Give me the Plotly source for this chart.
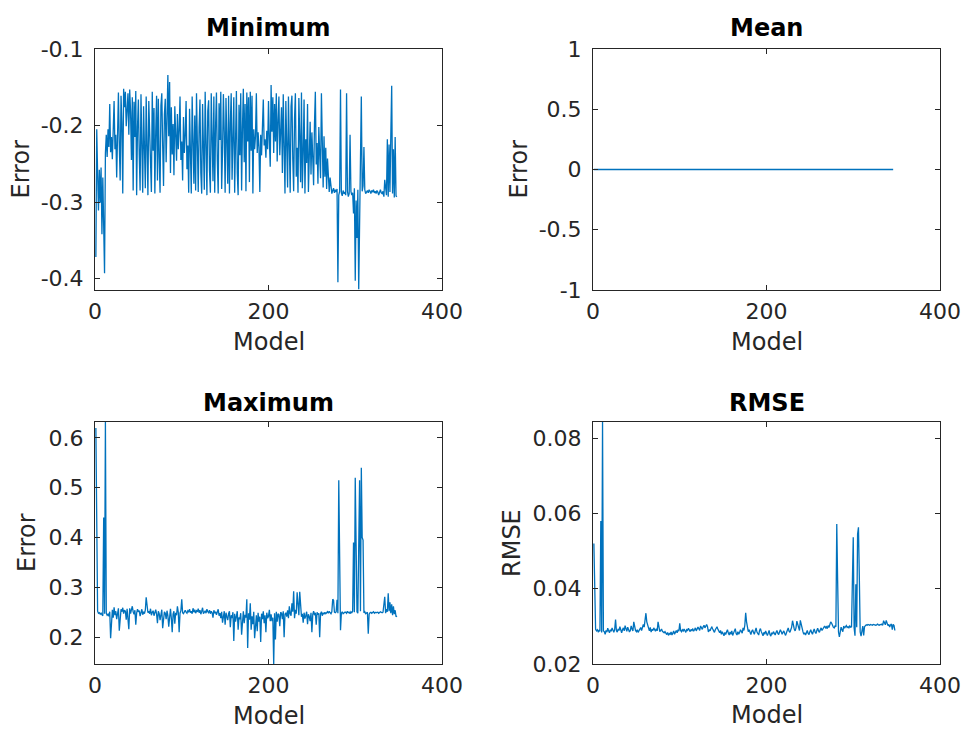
import plotly.graph_objects as go

# ---------------- data ----------------
models = list(range(1, 349))

min_err = [
    -0.372, -0.205, -0.262, -0.311, -0.258, -0.301, -0.255, -0.342, -0.268, -0.312, -0.393, -0.236,
    -0.212, -0.241, -0.205, -0.228, -0.172, -0.235, -0.215, -0.244, -0.208, -0.168, -0.231, -0.212,
    -0.268, -0.197, -0.157, -0.225, -0.272, -0.161, -0.198, -0.289, -0.152, -0.176, -0.156, -0.201,
    -0.165, -0.158, -0.212, -0.153, -0.182, -0.245, -0.163, -0.285, -0.169, -0.215, -0.155, -0.291,
    -0.202, -0.166, -0.238, -0.285, -0.159, -0.214, -0.288, -0.175, -0.231, -0.282, -0.162, -0.245,
    -0.291, -0.168, -0.219, -0.263, -0.287, -0.156, -0.233, -0.177, -0.289, -0.208, -0.161, -0.272,
    -0.165, -0.242, -0.288, -0.174, -0.158, -0.226, -0.279, -0.186, -0.165, -0.248, -0.193, -0.134,
    -0.214, -0.143, -0.262, -0.176, -0.238, -0.198, -0.265, -0.175, -0.212, -0.246, -0.185, -0.231,
    -0.207, -0.162, -0.245, -0.221, -0.272, -0.189, -0.236, -0.213, -0.168, -0.257, -0.226, -0.288,
    -0.178, -0.239, -0.289, -0.162, -0.213, -0.276, -0.187, -0.285, -0.158, -0.243, -0.287, -0.203,
    -0.166, -0.262, -0.289, -0.172, -0.215, -0.284, -0.156, -0.238, -0.291, -0.181, -0.167, -0.259,
    -0.288, -0.158, -0.226, -0.273, -0.162, -0.288, -0.201, -0.157, -0.246, -0.289, -0.171, -0.219,
    -0.156, -0.283, -0.235, -0.159, -0.208, -0.288, -0.164, -0.243, -0.276, -0.161, -0.289, -0.197,
    -0.158, -0.271, -0.229, -0.163, -0.288, -0.214, -0.155, -0.262, -0.291, -0.173, -0.239, -0.158,
    -0.285, -0.202, -0.152, -0.248, -0.172, -0.286, -0.157, -0.221, -0.163, -0.274, -0.156, -0.233,
    -0.161, -0.289, -0.205, -0.231, -0.214, -0.158, -0.236, -0.209, -0.228, -0.287, -0.212, -0.239,
    -0.201, -0.166, -0.226, -0.218, -0.242, -0.207, -0.231, -0.168, -0.219, -0.254, -0.147, -0.208,
    -0.163, -0.236, -0.172, -0.221, -0.158, -0.247, -0.193, -0.162, -0.239, -0.211, -0.176, -0.262,
    -0.159, -0.228, -0.289, -0.168, -0.216, -0.281, -0.162, -0.253, -0.288, -0.175, -0.161, -0.244,
    -0.286, -0.191, -0.158, -0.267, -0.229, -0.288, -0.164, -0.213, -0.274, -0.157, -0.282, -0.236,
    -0.166, -0.289, -0.218, -0.249, -0.172, -0.287, -0.233, -0.195, -0.264, -0.209, -0.242, -0.278,
    -0.198, -0.156, -0.251, -0.223, -0.276, -0.202, -0.238, -0.269, -0.158, -0.246, -0.281, -0.214,
    -0.267, -0.229, -0.283, -0.243, -0.276, -0.287, -0.268, -0.281, -0.289, -0.285, -0.282, -0.288,
    -0.284, -0.287, -0.283, -0.405, -0.291, -0.286, -0.153, -0.288, -0.292, -0.285, -0.289, -0.287,
    -0.291, -0.158, -0.286, -0.293, -0.289, -0.212, -0.286, -0.291, -0.288, -0.315, -0.282, -0.403,
    -0.298, -0.347, -0.284, -0.414, -0.332, -0.289, -0.162, -0.286, -0.279, -0.228, -0.284, -0.289,
    -0.287, -0.285, -0.288, -0.284, -0.286, -0.289, -0.285, -0.287, -0.284, -0.288, -0.286, -0.289,
    -0.285, -0.287, -0.291, -0.286, -0.284, -0.288, -0.289, -0.286, -0.293, -0.271, -0.288, -0.291,
    -0.218, -0.293, -0.225, -0.287, -0.212, -0.148, -0.289, -0.231, -0.294, -0.215, -0.292, -0.293,
]

# the mean error is flat at zero for every model
mean_err = [0.0] * 346

max_err = [
    0.620, 0.375, 0.252, 0.248, 0.249, 0.246, 0.248, 0.245, 0.243, 0.440, 0.247, 0.632,
    0.248, 0.244, 0.246, 0.242, 0.251, 0.198, 0.247, 0.255, 0.239, 0.260, 0.244, 0.252,
    0.236, 0.253, 0.258, 0.213, 0.249, 0.256, 0.251, 0.259, 0.247, 0.254, 0.252, 0.235,
    0.257, 0.241, 0.216, 0.258, 0.247, 0.255, 0.262, 0.251, 0.246, 0.254, 0.225, 0.248,
    0.256, 0.251, 0.253, 0.242, 0.249, 0.256, 0.245, 0.251, 0.247, 0.254, 0.280, 0.255,
    0.249, 0.252, 0.247, 0.257, 0.244, 0.250, 0.253, 0.243, 0.249, 0.255, 0.246, 0.228,
    0.252, 0.247, 0.234, 0.250, 0.255, 0.218, 0.245, 0.251, 0.248, 0.236, 0.253, 0.243,
    0.221, 0.249, 0.257, 0.238, 0.210, 0.246, 0.252, 0.227, 0.249, 0.244, 0.262, 0.250,
    0.210, 0.248, 0.253, 0.276, 0.249, 0.247, 0.252, 0.254, 0.250, 0.248, 0.253, 0.251,
    0.256, 0.249, 0.252, 0.247, 0.258, 0.250, 0.255, 0.248, 0.253, 0.251, 0.257, 0.249,
    0.254, 0.246, 0.252, 0.259, 0.247, 0.250, 0.253, 0.248, 0.256, 0.251, 0.249, 0.254,
    0.247, 0.252, 0.249, 0.239, 0.254, 0.248, 0.251, 0.245, 0.250, 0.256, 0.243, 0.248,
    0.238, 0.251, 0.229, 0.246, 0.252, 0.225, 0.249, 0.241, 0.234, 0.247, 0.252, 0.220,
    0.244, 0.238, 0.250, 0.192, 0.247, 0.231, 0.243, 0.252, 0.215, 0.240, 0.236, 0.248,
    0.205, 0.243, 0.252, 0.228, 0.245, 0.239, 0.276, 0.178, 0.248, 0.235, 0.268, 0.215,
    0.242, 0.226, 0.251, 0.198, 0.238, 0.244, 0.212, 0.249, 0.231, 0.241, 0.190, 0.247,
    0.236, 0.252, 0.228, 0.244, 0.210, 0.249, 0.238, 0.242, 0.255, 0.232, 0.246, 0.232,
    0.239, 0.146, 0.248, 0.195, 0.251, 0.231, 0.247, 0.245, 0.222, 0.250, 0.248, 0.236,
    0.252, 0.200, 0.246, 0.249, 0.241, 0.254, 0.238, 0.262, 0.247, 0.243, 0.268, 0.251,
    0.292, 0.238, 0.255, 0.247, 0.290, 0.250, 0.244, 0.291, 0.252, 0.241, 0.247, 0.229,
    0.249, 0.237, 0.243, 0.251, 0.226, 0.246, 0.241, 0.232, 0.249, 0.210, 0.245, 0.252,
    0.244, 0.249, 0.225, 0.250, 0.245, 0.248, 0.200, 0.247, 0.251, 0.243, 0.249, 0.246,
    0.250, 0.247, 0.249, 0.251, 0.248, 0.252, 0.249, 0.247, 0.251, 0.276, 0.274, 0.250,
    0.249, 0.251, 0.275, 0.248, 0.515, 0.385, 0.214, 0.248, 0.251, 0.247, 0.249, 0.250,
    0.250, 0.248, 0.252, 0.249, 0.250, 0.247, 0.251, 0.249, 0.252, 0.390, 0.250, 0.520,
    0.385, 0.251, 0.248, 0.390, 0.515, 0.252, 0.540, 0.400, 0.395, 0.249, 0.251, 0.247,
    0.248, 0.250, 0.207, 0.246, 0.249, 0.250, 0.248, 0.249, 0.251, 0.248, 0.250, 0.249,
    0.249, 0.250, 0.248, 0.249, 0.251, 0.250, 0.249, 0.250, 0.262, 0.281, 0.248, 0.256,
    0.251, 0.288, 0.252, 0.270, 0.248, 0.266, 0.244, 0.262, 0.246, 0.254, 0.241, 0.243,
]

rmse = [
    0.0520, 0.0405, 0.0292, 0.0288, 0.0291, 0.0286, 0.0289, 0.0287, 0.0580, 0.0284, 0.0843, 0.0288,
    0.0286, 0.0279, 0.0289, 0.0285, 0.0295, 0.0288, 0.0283, 0.0291, 0.0287, 0.0296, 0.0289, 0.0284,
    0.0292, 0.0318, 0.0288, 0.0285, 0.0293, 0.0289, 0.0299, 0.0286, 0.0283, 0.0291, 0.0296, 0.0288,
    0.0302, 0.0294, 0.0287, 0.0298, 0.0291, 0.0285, 0.0289, 0.0301, 0.0293, 0.0288, 0.0312, 0.0295,
    0.0289, 0.0286, 0.0291, 0.0284, 0.0288, 0.0293, 0.0297, 0.0289, 0.0301, 0.0305, 0.0298, 0.0318,
    0.0335, 0.0312, 0.0301, 0.0294, 0.0288, 0.0297, 0.0285, 0.0292, 0.0289, 0.0296, 0.0291, 0.0287,
    0.0294, 0.0288, 0.0312, 0.0291, 0.0286, 0.0289, 0.0293, 0.0287, 0.0285, 0.0283, 0.0286, 0.0282,
    0.0278, 0.0284, 0.0276, 0.0281, 0.0279, 0.0285, 0.0277, 0.0282, 0.0288, 0.0279, 0.0285, 0.0289,
    0.0283, 0.0291, 0.0287, 0.0308, 0.0289, 0.0286, 0.0291, 0.0288, 0.0293, 0.0287, 0.0284, 0.0291,
    0.0289, 0.0295, 0.0288, 0.0286, 0.0292, 0.0289, 0.0294, 0.0287, 0.0291, 0.0296, 0.0288, 0.0293,
    0.0298, 0.0294, 0.0289, 0.0301, 0.0297, 0.0292, 0.0299, 0.0303, 0.0296, 0.0301, 0.0305, 0.0299,
    0.0285, 0.0291, 0.0288, 0.0295, 0.0298, 0.0293, 0.0289, 0.0284, 0.0291, 0.0296, 0.0299, 0.0292,
    0.0288, 0.0283, 0.0289, 0.0279, 0.0286, 0.0281, 0.0275, 0.0284, 0.0278, 0.0286, 0.0291, 0.0282,
    0.0277, 0.0285, 0.0279, 0.0288, 0.0276, 0.0282, 0.0289, 0.0294, 0.0281, 0.0277, 0.0286, 0.0279,
    0.0284, 0.0291, 0.0287, 0.0282, 0.0296, 0.0289, 0.0303, 0.0336, 0.0312, 0.0294, 0.0286, 0.0291,
    0.0283, 0.0278, 0.0287, 0.0291, 0.0284, 0.0279, 0.0288, 0.0296, 0.0285, 0.0281, 0.0277, 0.0289,
    0.0294, 0.0286, 0.0281, 0.0275, 0.0284, 0.0279, 0.0288, 0.0283, 0.0276, 0.0282, 0.0289, 0.0278,
    0.0274, 0.0283, 0.0279, 0.0286, 0.0281, 0.0277, 0.0284, 0.0289, 0.0282, 0.0278, 0.0285, 0.0291,
    0.0286, 0.0279, 0.0284, 0.0288, 0.0281, 0.0276, 0.0283, 0.0289, 0.0296, 0.0287, 0.0284, 0.0291,
    0.0298, 0.0315, 0.0302, 0.0293, 0.0288, 0.0296, 0.0314, 0.0305, 0.0297, 0.0289, 0.0316, 0.0302,
    0.0294, 0.0286, 0.0279, 0.0283, 0.0277, 0.0285, 0.0289, 0.0281, 0.0278, 0.0286, 0.0291, 0.0284,
    0.0279, 0.0287, 0.0293, 0.0285, 0.0281, 0.0289, 0.0295, 0.0288, 0.0284, 0.0291, 0.0296, 0.0289,
    0.0293, 0.0298, 0.0301, 0.0296, 0.0299, 0.0294, 0.0302, 0.0297, 0.0305, 0.0312, 0.0309, 0.0301,
    0.0298, 0.0296, 0.0301, 0.0299, 0.0572, 0.0421, 0.0285, 0.0272, 0.0294, 0.0298, 0.0291, 0.0286,
    0.0301, 0.0295, 0.0299, 0.0302, 0.0297, 0.0299, 0.0296, 0.0301, 0.0298, 0.0299, 0.0418, 0.0537,
    0.0296, 0.0275, 0.0412, 0.0298, 0.0545, 0.0563, 0.0432, 0.0285, 0.0274, 0.0297, 0.0301, 0.0276,
    0.0299, 0.0302, 0.0304, 0.0303, 0.0305, 0.0304, 0.0303, 0.0305, 0.0304, 0.0303, 0.0305, 0.0304,
    0.0305, 0.0303, 0.0304, 0.0306, 0.0304, 0.0303, 0.0305, 0.0304, 0.0306, 0.0303, 0.0315, 0.0308,
    0.0304, 0.0316, 0.0306, 0.0302, 0.0305, 0.0298, 0.0304, 0.0306, 0.0291, 0.0305, 0.0302, 0.0289,
]

titles = ["Minimum", "Mean", "Maximum", "RMSE"]
y_titles = ["Error", "Error", "Error", "RMSE"]
x_title = "Model"
x_ticks = [0, 200, 400]
x_ticktext = ["0", "200", "400"]
min_yticks = [-0.4, -0.3, -0.2, -0.1]
min_yticktext = ["-0.4", "-0.3", "-0.2", "-0.1"]
mean_yticks = [-1, -0.5, 0, 0.5, 1]
mean_yticktext = ["-1", "-0.5", "0", "0.5", "1"]
max_yticks = [0.2, 0.3, 0.4, 0.5, 0.6]
max_yticktext = ["0.2", "0.3", "0.4", "0.5", "0.6"]
rmse_yticks = [0.02, 0.04, 0.06, 0.08]
rmse_yticktext = ["0.02", "0.04", "0.06", "0.08"]

# ---------------- figure ----------------
W, H = 965, 731
LINE = "#0072BD"
AX = "#262626"
FONT = "DejaVu Sans"

# panel boxes in pixels: (left, right, top, bottom)
boxes = [(95, 442, 49, 290), (593, 940, 49, 290),
         (95, 442, 422, 664), (593, 940, 422, 664)]
# pixel centres of the y-axis titles (x), x-axis titles (y), panel titles (y)
ytitle_x = [20, 518, 27, 512]
xtitle_y = [342, 342, 716, 715]
title_y = [28, 28, 403, 403]


def px(x):
    return x / W


def py(y):
    return 1 - y / H


fig = go.Figure()
series = [min_err, mean_err, max_err, rmse]
yranges = [[-0.415, -0.1], [-1, 1], [0.146, 0.632], [0.02, 0.0843]]
yticks = [(min_yticks, min_yticktext), (mean_yticks, mean_yticktext),
          (max_yticks, max_yticktext), (rmse_yticks, rmse_yticktext)]

annotations = []
for i, (ys, box) in enumerate(zip(series, boxes)):
    n = "" if i == 0 else str(i + 1)
    fig.add_trace(go.Scatter(
        x=models[:len(ys)], y=ys, mode="lines",
        line=dict(color=LINE, width=1.3),
        xaxis="x" + n, yaxis="y" + n, showlegend=False,
    ))
    l, r, t, b = box
    common = dict(showline=True, linecolor=AX, linewidth=1, mirror="ticks",
                  ticks="inside", ticklen=5, tickcolor=AX, showgrid=False,
                  zeroline=False, automargin=False,
                  tickfont=dict(family=FONT, size=22, color=AX))
    fig.update_layout(**{
        "xaxis" + n: dict(domain=[px(l), px(r)], range=[0, 400], tickvals=x_ticks,
                          ticktext=x_ticktext, anchor="y" + n, ticklabelstandoff=2,
                          **common),
        "yaxis" + n: dict(domain=[py(b), py(t)], range=yranges[i],
                          tickvals=yticks[i][0], ticktext=yticks[i][1],
                          anchor="x" + n, ticklabelstandoff=6, **common),
    })
    annotations.append(dict(
        text="<b>" + titles[i] + "</b>", x=px((l + r) / 2), y=py(title_y[i]),
        xref="paper", yref="paper", xanchor="center", yanchor="middle",
        showarrow=False, font=dict(family=FONT, size=24, color="#000000"),
    ))
    annotations.append(dict(
        text=x_title, x=px((l + r) / 2), y=py(xtitle_y[i]),
        xref="paper", yref="paper", xanchor="center", yanchor="middle",
        showarrow=False, font=dict(family=FONT, size=24, color=AX),
    ))
    annotations.append(dict(
        text=y_titles[i], x=px(ytitle_x[i]), y=py((t + b) / 2), textangle=-90,
        xref="paper", yref="paper", xanchor="center", yanchor="middle",
        showarrow=False, font=dict(family=FONT, size=24, color=AX),
    ))

fig.update_layout(width=W, height=H, margin=dict(l=0, r=0, t=0, b=0),
                  paper_bgcolor="white", plot_bgcolor="white",
                  annotations=annotations)

# drop the browser's default 8px page margin so the figure fills the window
fig.write_html(
    "out.html",
    config={"displayModeBar": False},
    post_script="document.body.style.margin='0px';"
                "document.body.style.overflow='hidden';",
)
